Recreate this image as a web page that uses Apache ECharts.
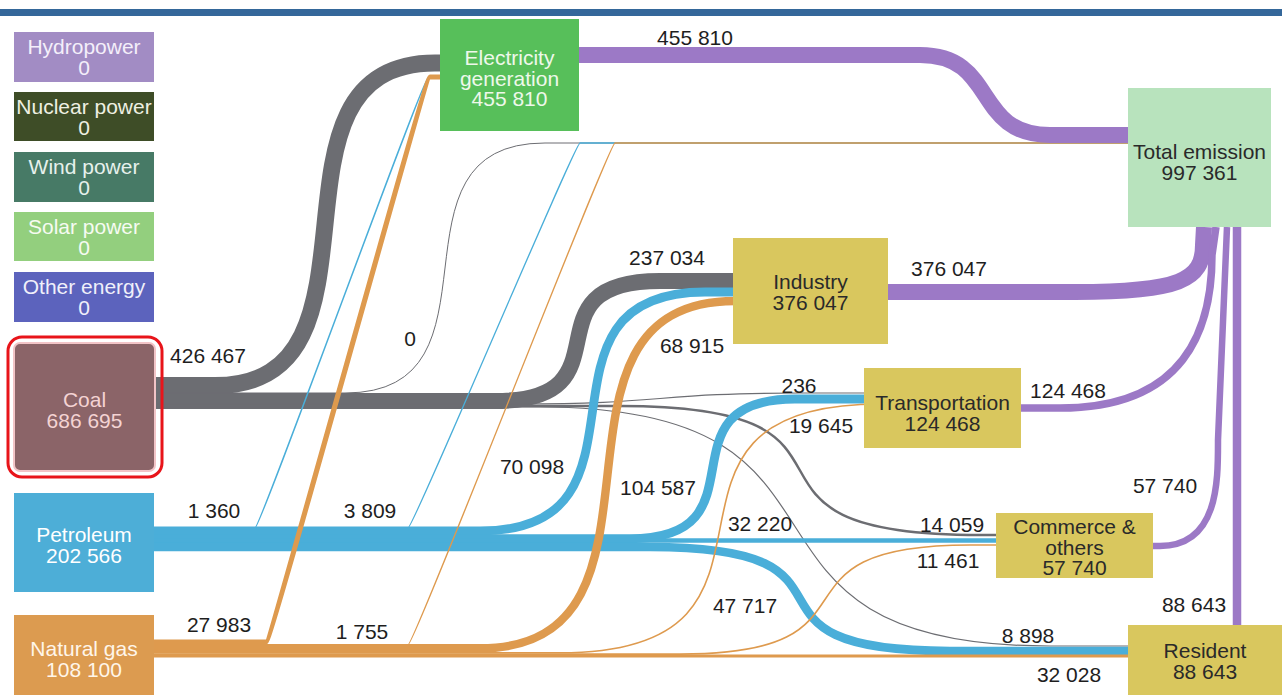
<!DOCTYPE html>
<html><head><meta charset="utf-8">
<script src="https://cdn.jsdelivr.net/npm/echarts@6/dist/echarts.min.js"></script>
<style>html,body{margin:0;padding:0;background:#fff;overflow:hidden}#c{width:1282px;height:695px}</style>
</head><body><div id="c"></div>
<script>
// ---------- DATA ----------
const nodeNames = ['Hydropower','Nuclear power','Wind power','Solar power','Other energy','Coal','Petroleum','Natural gas',
  'Electricity generation','Industry','Transportation','Commerce & others','Resident','Total emission'];
const nodeLabels = ['Hydropower','Nuclear power','Wind power','Solar power','Other energy','Coal','Petroleum','Natural gas',
  'Electricity\ngeneration','Industry','Transportation','Commerce &\nothers','Resident','Total emission'];
const nodeValues = [0,0,0,0,0,686695,202566,108100,455810,376047,124468,57740,88643,997361];

const linkSources = ['Coal','Coal','Coal','Coal','Coal','Coal',
  'Petroleum','Petroleum','Petroleum','Petroleum','Petroleum','Petroleum',
  'Natural gas','Natural gas','Natural gas','Natural gas','Natural gas','Natural gas',
  'Electricity generation','Industry','Transportation','Commerce & others','Resident'];
const linkTargets = ['Electricity generation','Industry','Total emission','Transportation','Commerce & others','Resident',
  'Electricity generation','Total emission','Industry','Transportation','Commerce & others','Resident',
  'Electricity generation','Total emission','Industry','Transportation','Commerce & others','Resident',
  'Total emission','Total emission','Total emission','Total emission','Total emission'];
const linkValues = [426467,237034,0,236,14059,8898,
  1360,3809,70098,104587,32220,47717,
  27983,1755,68915,19645,11461,32028,
  455810,376047,124468,57740,88643];

// ---------- LAYOUT / STYLE (not data) ----------
const nodeLayout = {
  'Hydropower':            {x:14,  y:32,  w:140, h:50,  fill:'#a28cc4', color:'#f4effa', ly:57},
  'Nuclear power':         {x:14,  y:92,  w:140, h:49,  fill:'#3e4d27', color:'#eef0e2', ly:117},
  'Wind power':            {x:14,  y:152, w:140, h:50,  fill:'#477a66', color:'#e6f1ec', ly:177},
  'Solar power':           {x:14,  y:212, w:140, h:49,  fill:'#93cf7e', color:'#f6fbf2', ly:237},
  'Other energy':          {x:14,  y:272, w:140, h:50,  fill:'#5c63bd', color:'#f0f0fa', ly:297},
  'Coal':                  {x:14,  y:343, w:141, h:128, fill:'#8b6468', color:'#f4d3d3', ly:410, ring:true},
  'Petroleum':             {x:14,  y:493, w:140, h:99,  fill:'#4daed7', color:'#ffffff', ly:545},
  'Natural gas':           {x:14,  y:615, w:140, h:90,  fill:'#dc9b50', color:'#fff6ea', ly:659},
  'Electricity generation':{x:440, y:19,  w:139, h:112, fill:'#57bf5a', color:'#eef8ea', ly:78},
  'Industry':              {x:733, y:238, w:155, h:106, fill:'#d9c75e', color:'#2a2a2a', ly:292},
  'Transportation':        {x:864, y:368, w:157, h:80,  fill:'#d9c75e', color:'#2a2a2a', ly:413},
  'Commerce & others':     {x:996, y:513, w:157, h:65,  fill:'#d9c75e', color:'#2a2a2a', ly:547},
  'Resident':              {x:1128,y:625, w:154, h:80,  fill:'#d9c75e', color:'#2a2a2a', ly:661},
  'Total emission':        {x:1128,y:88,  w:143, h:139, fill:'#b8e3bd', color:'#2a2a2a', ly:162}
};
const sourceColor = {'Coal':'#6c6d72','Petroleum':'#4aaed9','Natural gas':'#de9a4e'};
const endUseColor = '#9c79c6';

// route of each link: s = horizontal S-curve, up = horizontal then up into node bottom, v = vertical
const linkLayout = [
  {mode:'s', sy:385.5, ty:63,  x1:215, x2:435,  a:0.85, w:17},
  {mode:'s', sy:401, ty:281, x1:495, x2:660,  a:0.85, w:16},
  {mode:'s', sy:393, ty:143, x1:345, x2:545,  a:0.85, w:1},
  {mode:'s', sy:404, ty:393, x1:520, x2:800,  a:0.5,  w:1.2},
  {mode:'s', sy:406, ty:535, x1:620, x2:980,  a:0.8,  w:2.5},
  {mode:'s', sy:407, ty:646, x1:540, x2:1050, a:0.7,  w:1.2},
  {mode:'s', sy:528, ty:78,  x1:255, x2:428,  a:0.03, w:1.5},
  {mode:'s', sy:528, ty:143, x1:408, x2:580,  a:0.03, w:1.3},
  {mode:'s', sy:531, ty:292, x1:480, x2:705,  a:0.85, w:8.8},
  {mode:'s', sy:538.8, ty:399, x1:630, x2:795,  a:0.85, w:9},
  {mode:'s', sy:540.5, ty:540.5, x1:600, x2:700, a:0.5, w:4.5},
  {mode:'s', sy:547, ty:651, x1:650, x2:950,  a:0.8,  w:8.6},
  {mode:'s', sy:642, ty:77,  x1:266, x2:430,  a:0.03, w:5.2},
  {mode:'s', sy:645, ty:143, x1:408, x2:615,  a:0.03, w:1.3},
  {mode:'s', sy:648.3, ty:301, x1:480, x2:735,  a:0.85, w:8.4},
  {mode:'s', sy:652.8, ty:404, x1:560, x2:880,  a:0.85, w:1.6},
  {mode:'s', sy:654.1, ty:545, x1:680, x2:970,  a:0.75, w:1.6},
  {mode:'s', sy:656, ty:656, x1:600, x2:700,  a:0.5,  w:2.8},
  {mode:'s', sy:55,  ty:135, x1:920, x2:1050, a:0.6,  w:16},
  {mode:'up', sy:292, tx:1203, x1:1075, cx:1180, cy:280, ey:245, tx2:1204, w:16},
  {mode:'up', sy:408, tx:1212, x1:1060, cx:1185, cy:330, ey:255, tx2:1216, w:7.5},
  {mode:'up', sy:546, tx:1218, x1:1160, cx:1219, cy:480, ey:440, tx2:1227, w:6.5},
  {mode:'v',  tx:1237, w:8.5}
];
const linkLabelPos = [
  [208,355],[667,257],[410,338],[799,385],[952,524],[1028,635],
  [214,510],[370,510],[532,466],[658,487],[760,523],[745,605],
  [219,624],[362,631],[692,345],[821,425],[948,560],[1069,674],
  [695,37],[949,268],[1068,390],[1165,485],[1194,604]
];

const FONT = '21px "Liberation Sans", Arial, Helvetica, sans-serif';
const fmt = v => String(v).replace(/\B(?=(\d{3})+(?!\d))/g, ' ');

function pathFor(i, api) {
  const L = linkLayout[i];
  const s = nodeLayout[linkSources[i]], t = nodeLayout[linkTargets[i]];
  const P = (x, y) => { const p = api.coord([x, y]); return p[0].toFixed(2) + ' ' + p[1].toFixed(2); };
  if (L.mode === 'v') {
    return 'M' + P(L.tx, s.y) + 'L' + P(L.tx, t.y + t.h);
  }
  const sx = s.x + s.w;
  if (L.mode === 'up') {
    const by = t.y + t.h;
    return 'M' + P(sx, L.sy) + 'L' + P(L.x1, L.sy) +
      'C' + P(L.cx, L.sy) + ' ' + P(L.tx, L.cy) + ' ' + P(L.tx, L.ey) + 'L' + P(L.tx2, by);
  }
  const tx = t.x, dx = L.x2 - L.x1;
  return 'M' + P(sx, L.sy) + 'L' + P(L.x1, L.sy) +
    'C' + P(L.x1 + L.a * dx, L.sy) + ' ' + P(L.x2 - L.a * dx, L.ty) + ' ' + P(L.x2, L.ty) +
    'L' + P(tx, L.ty);
}

function renderLink(params, api) {
  const i = params.dataIndex;
  const L = linkLayout[i];
  const col = sourceColor[linkSources[i]] || endUseColor;
  return {
    type: 'path',
    shape: { pathData: pathFor(i, api) },
    style: { fill: 'none', stroke: col, lineWidth: L.w, lineCap: 'butt', lineJoin: 'round' }
  };
}

function renderNode(params, api) {
  const name = nodeNames[params.dataIndex];
  const N = nodeLayout[name];
  const p0 = api.coord([N.x, N.y]), p1 = api.coord([N.x + N.w, N.y + N.h]);
  const cx = api.coord([N.x + N.w / 2, N.ly]);
  const children = [];
  children.push({
    type: 'rect',
    shape: { x: p0[0], y: p0[1], width: p1[0] - p0[0], height: p1[1] - p0[1], r: N.ring ? 6 : 0 },
    style: { fill: N.fill, stroke: N.ring ? '#f2c4c7' : null, lineWidth: N.ring ? 2 : 0 }
  });
  if (N.ring) {
    const r0 = api.coord([N.x - 6, N.y - 6]), r1 = api.coord([N.x + N.w + 7, N.y + N.h + 6]);
    children.push({
      type: 'rect',
      shape: { x: r0[0], y: r0[1], width: r1[0] - r0[0], height: r1[1] - r0[1], r: 14 },
      style: { fill: 'none', stroke: '#e8141a', lineWidth: 3 }
    });
  }
  children.push({
    type: 'text',
    x: cx[0], y: cx[1],
    style: {
      text: nodeLabels[params.dataIndex] + '\n' + fmt(nodeValues[params.dataIndex]),
      fill: N.color, font: FONT, lineHeight: 20.5,
      align: 'center', verticalAlign: 'middle', textAlign: 'center', textVerticalAlign: 'middle'
    }
  });
  return { type: 'group', children };
}

function renderLinkLabel(params, api) {
  const i = params.dataIndex;
  const p = api.coord(linkLabelPos[i]);
  return {
    type: 'text', x: p[0], y: p[1],
    style: {
      text: fmt(linkValues[i]), fill: '#1e1e1e', font: FONT,
      align: 'center', verticalAlign: 'middle', textAlign: 'center', textVerticalAlign: 'middle'
    }
  };
}

const chart = echarts.init(document.getElementById('c'), null, { renderer: 'svg', width: 1282, height: 695 });
chart.setOption({
  backgroundColor: '#ffffff',
  animation: false,
  grid: { left: 0, right: 0, top: 0, bottom: 0 },
  xAxis: { type: 'value', min: 0, max: 1282, show: false },
  yAxis: { type: 'value', min: 0, max: 695, inverse: true, show: false },
  graphic: [
    { type: 'rect', shape: { x: 0, y: 9, width: 1282, height: 7 }, style: { fill: '#34679a' }, z: 100 }
  ],
  series: [
    { type: 'custom', name: 'links', coordinateSystem: 'cartesian2d', silent: true, clip: false, z: 1,
      data: linkValues.map((v, i) => [i, 0, v]), encode: { x: 0, y: 1 }, renderItem: renderLink },
    { type: 'custom', name: 'nodes', coordinateSystem: 'cartesian2d', silent: true, clip: false, z: 2,
      data: nodeValues.map((v, i) => [i, 0, v]), encode: { x: 0, y: 1 }, renderItem: renderNode },
    { type: 'custom', name: 'linkLabels', coordinateSystem: 'cartesian2d', silent: true, clip: false, z: 3,
      data: linkValues.map((v, i) => [i, 0, v]), encode: { x: 0, y: 1 }, renderItem: renderLinkLabel }
  ]
});
</script>
</body></html>
